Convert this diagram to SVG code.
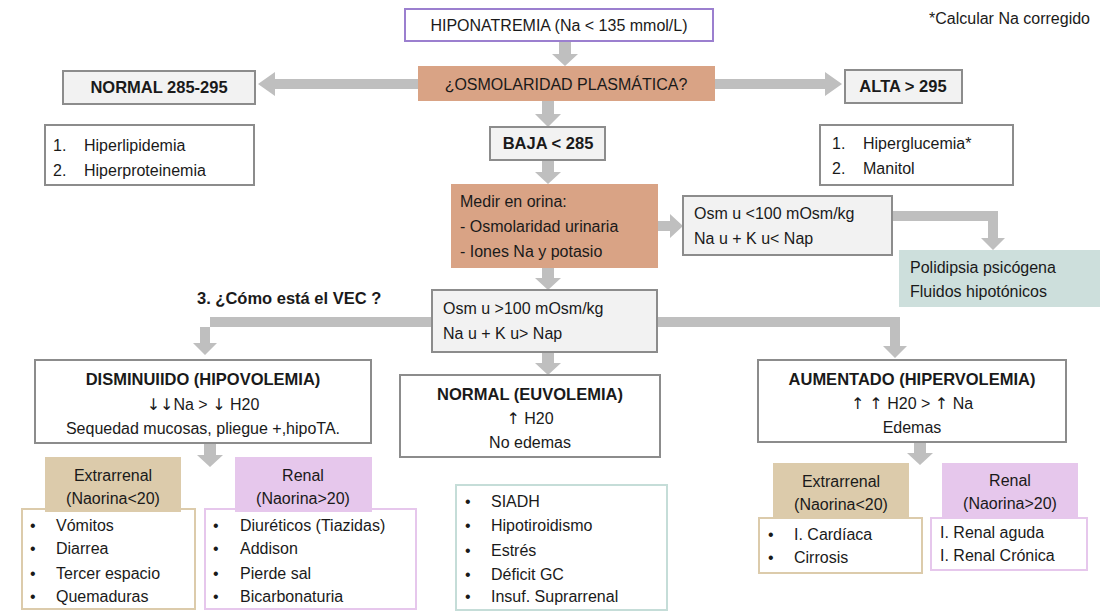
<svg xmlns="http://www.w3.org/2000/svg" width="1100" height="616" viewBox="0 0 1100 616">
<style>
text{font-family:"Liberation Sans",Arial,sans-serif;font-size:16px;fill:#1a1a1a}
.b{font-weight:bold;font-size:16.5px}
.c{text-anchor:middle}
.ar{font-family:"DejaVu Sans",sans-serif}
.g{fill:#f2f2f2;stroke:#8c8c8c;stroke-width:2}
.w{fill:#fff;stroke:#8c8c8c;stroke-width:2}
.o{fill:#d9a385}
.a{fill:#bfbfbf}
</style>
<rect width="1100" height="616" fill="#fff"/>
<g id="connectors" class="a">
<polygon points="559,41 571,41 571,54 578,54 565,66 552,54 559,54"/>
<polygon points="418,79 275,79 275,72 258,84 275,96 275,89 418,89"/>
<polygon points="715,79 825,79 825,72 842,84 825,96 825,89 715,89"/>
<polygon points="542,101 554,101 554,114 561,114 548,127 535,114 542,114"/>
<polygon points="542,160 554,160 554,172 561,172 548,184 535,172 542,172"/>
<polygon points="658,221 670,221 670,214 683,226 670,238 670,231 658,231"/>
<polygon points="892,211 998,211 998,238 1005,238 993,250 981,238 988,238 988,221 892,221"/>
<polygon points="542,268 554,268 554,278 561,278 548,290 535,278 542,278"/>
<polygon points="432,317 210,317 210,343 217,343 205,355 193,343 200,343 200,327 432,327"/>
<polygon points="657,317 900,317 900,346 907,346 895,358 883,346 890,346 890,327 657,327"/>
<polygon points="542,352 554,352 554,363 561,363 548,375 535,363 542,363"/>
<polygon points="204,443 216,443 216,455 223,455 210,467 197,455 204,455"/>
<polygon points="914,442 926,442 926,453 933,453 920,465 907,453 914,453"/>
</g>
<text x="1090" y="24" style="text-anchor:end">*Calcular Na corregido</text>
<text x="197" y="304" class="b">3. ¿Cómo está el VEC ?</text>
<g id="hipo"><rect x="405" y="9" width="308" height="32" fill="#fff" stroke="#9b7fcf" stroke-width="2"/><text x="559" y="31" class="c">HIPONATREMIA (Na &lt; 135 mmol/L)</text></g>
<g id="osm"><rect x="418" y="66" width="297" height="35" class="o"/><text x="566" y="90" class="c">¿OSMOLARIDAD PLASMÁTICA?</text></g>
<g id="normal"><rect x="63" y="71" width="192" height="33" class="g"/><text x="159" y="93" class="c b">NORMAL 285-295</text></g>
<g id="alta"><rect x="845" y="70" width="117" height="33" class="g"/><text x="903" y="92" class="c b">ALTA &gt; 295</text></g>
<g id="listL"><rect x="45" y="125" width="209" height="60" class="w"/><text x="53" y="151">1.</text><text x="84" y="151">Hiperlipidemia</text><text x="53" y="176">2.</text><text x="84" y="176">Hiperproteinemia</text></g>
<g id="listR"><rect x="820" y="125" width="193" height="60" class="w"/><text x="832" y="149">1.</text><text x="863" y="149">Hiperglucemia*</text><text x="832" y="174">2.</text><text x="863" y="174">Manitol</text></g>
<g id="baja"><rect x="490" y="127" width="115" height="33" class="g"/><text x="548" y="149" class="c b">BAJA &lt; 285</text></g>
<g id="medir"><rect x="451" y="184" width="207" height="84" class="o"/><text x="460" y="207">Medir en orina:</text><text x="460" y="232">- Osmolaridad urinaria</text><text x="460" y="257">- Iones Na y potasio</text></g>
<g id="osm100a"><rect x="683" y="196" width="209" height="59" class="g"/><text x="694" y="219">Osm u &lt;100 mOsm/kg</text><text x="694" y="244">Na u + K u&lt; Nap</text></g>
<g id="poli"><rect x="899" y="250" width="201" height="57" fill="#cddfdc"/><text x="910" y="273">Polidipsia psicógena</text><text x="910" y="297">Fluidos hipotónicos</text></g>
<g id="osm100b"><rect x="432" y="290" width="225" height="62" class="g"/><text x="443" y="314">Osm u &gt;100 mOsm/kg</text><text x="443" y="339">Na u + K u&gt; Nap</text></g>
<g id="dism"><rect x="35" y="360" width="336" height="83" class="w"/><text x="203" y="385" class="c b">DISMINUIIDO (HIPOVOLEMIA)</text><text x="203" y="410" class="c"><tspan class="ar">↓↓</tspan>Na &gt; <tspan class="ar">↓</tspan> H20</text><text x="203" y="434" class="c">Sequedad mucosas, pliegue +,hipoTA.</text></g>
<g id="euvo"><rect x="400" y="375" width="260" height="82" class="w"/><text x="530" y="400" class="c b">NORMAL (EUVOLEMIA)</text><text x="530" y="424" class="c"><tspan class="ar">↑</tspan> H20</text><text x="530" y="448" class="c">No edemas</text></g>
<g id="hiper"><rect x="758" y="360" width="308" height="82" class="w"/><text x="912" y="385" class="c b">AUMENTADO (HIPERVOLEMIA)</text><text x="912" y="409" class="c"><tspan class="ar">↑ ↑</tspan> H20 &gt; <tspan class="ar">↑</tspan> Na</text><text x="912" y="433" class="c">Edemas</text></g>
<g id="extL"><rect x="22" y="509" width="173" height="100" fill="#fff" stroke="#dccbab" stroke-width="2"/><rect x="45" y="457" width="136" height="55" fill="#dccbab"/><text x="113" y="481" class="c">Extrarrenal</text><text x="113" y="504" class="c">(Naorina&lt;20)</text>
<text x="30" y="531">•</text><text x="56" y="531">Vómitos</text><text x="30" y="554">•</text><text x="56" y="554">Diarrea</text><text x="30" y="579">•</text><text x="56" y="579">Tercer espacio</text><text x="30" y="602">•</text><text x="56" y="602">Quemaduras</text></g>
<g id="renL"><rect x="205" y="509" width="211" height="100" fill="#fff" stroke="#e6c7ec" stroke-width="2"/><rect x="235" y="457" width="137" height="55" fill="#e6c7ec"/><text x="303" y="481" class="c">Renal</text><text x="303" y="504" class="c">(Naorina&gt;20)</text>
<text x="213" y="531">•</text><text x="240" y="531">Diuréticos (Tiazidas)</text><text x="213" y="554">•</text><text x="240" y="554">Addison</text><text x="213" y="579">•</text><text x="240" y="579">Pierde sal</text><text x="213" y="602">•</text><text x="240" y="602">Bicarbonaturia</text></g>
<g id="siadh"><rect x="456" y="485" width="211" height="125" fill="#fff" stroke="#c5ddd8" stroke-width="2"/>
<text x="465" y="507">•</text><text x="491" y="507">SIADH</text><text x="465" y="531">•</text><text x="491" y="531">Hipotiroidismo</text><text x="465" y="556">•</text><text x="491" y="556">Estrés</text><text x="465" y="580">•</text><text x="491" y="580">Déficit GC</text><text x="465" y="602">•</text><text x="491" y="602">Insuf. Suprarrenal</text></g>
<g id="extR"><rect x="759" y="518" width="163" height="55" fill="#fff" stroke="#dccbab" stroke-width="2"/><rect x="773" y="463" width="136" height="55" fill="#dccbab"/><text x="841" y="487" class="c">Extrarrenal</text><text x="841" y="510" class="c">(Naorina&lt;20)</text>
<text x="768" y="540">•</text><text x="794" y="540">I. Cardíaca</text><text x="768" y="563">•</text><text x="794" y="563">Cirrosis</text></g>
<g id="renR"><rect x="931" y="518" width="156" height="52" fill="#fff" stroke="#e6c7ec" stroke-width="2"/><rect x="942" y="463" width="136" height="55" fill="#e6c7ec"/><text x="1010" y="486" class="c">Renal</text><text x="1010" y="509" class="c">(Naorina&gt;20)</text>
<text x="940" y="538">I. Renal aguda</text><text x="940" y="561">I. Renal Crónica</text></g>
</svg>
